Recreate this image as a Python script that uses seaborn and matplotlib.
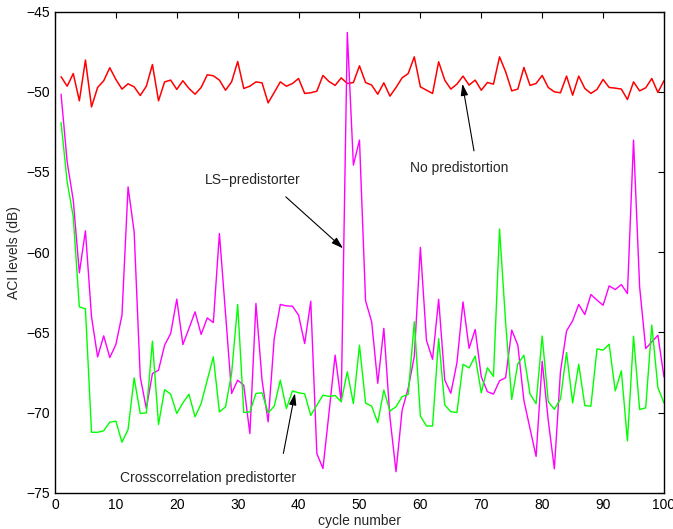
import numpy as np
import pandas as pd
import seaborn as sns
import matplotlib
matplotlib.use('Agg')
import matplotlib.pyplot as plt

# values, cycles 1..100
cycle = np.arange(1, 101)

no_pd = [-49.06, -49.65, -48.86, -50.56, -48.02, -50.94, -49.73, -49.31, -48.50, -49.23,
         -49.83, -49.50, -49.69, -50.23, -49.65, -48.30, -50.56, -49.38, -49.27, -49.85,
         -49.31, -49.79, -50.15, -49.73, -48.94, -49.00, -49.27, -49.90, -49.38, -48.11,
         -49.79, -49.65, -49.38, -49.44, -50.69, -50.04, -49.38, -49.65, -49.48, -49.17,
         -50.10, -50.06, -49.96, -48.98, -49.36, -49.60, -49.13, -49.48, -49.42, -48.38,
         -49.42, -49.58, -50.15, -49.44, -50.27, -49.73, -49.13, -48.86, -47.82, -49.69,
         -49.90, -50.10, -48.13, -49.27, -49.83, -49.52, -49.02, -49.58, -49.27, -49.90,
         -49.42, -49.52, -47.82, -48.75, -49.94, -49.83, -48.48, -49.60, -49.48, -48.98,
         -49.73, -50.00, -50.06, -49.02, -50.21, -49.02, -49.79, -50.10, -49.85, -49.23,
         -49.73, -49.77, -49.83, -50.48, -49.38, -49.94, -49.75, -49.17, -50.04, -49.31]

ls_pd = [-50.15, -54.37, -56.76, -61.29, -58.67, -64.03, -66.53, -65.22, -66.57, -65.76,
         -63.93, -55.93, -58.73, -67.78, -69.75, -67.57, -67.36, -65.80, -65.07, -62.93,
         -65.76, -64.76, -63.72, -65.13, -64.10, -64.39, -58.84, -63.80, -68.81, -67.98,
         -68.30, -71.31, -63.20, -67.98, -70.58, -65.38, -63.26, -63.35, -63.37, -63.93,
         -65.70, -63.06, -72.56, -73.49, -70.00, -66.42, -69.33, -46.30, -54.57, -53.01,
         -63.03, -64.34, -68.18, -64.75, -70.30, -73.69, -69.85, -68.49, -66.50, -59.70,
         -65.50, -66.68, -62.94, -67.97, -68.80, -66.90, -63.10, -66.00, -64.82, -67.77,
         -68.70, -68.85, -68.02, -67.83, -64.86, -65.80, -69.25, -71.00, -72.74, -66.80,
         -70.50, -73.51, -67.45, -64.91, -64.28, -63.26, -63.89, -62.64, -62.99, -63.31,
         -62.10, -62.33, -62.02, -62.58, -53.01, -62.16, -66.01, -65.59, -65.18, -67.78]

xc_pd = [-51.91, -55.61, -57.80, -63.41, -63.53, -71.23, -71.23, -71.14, -70.60, -70.54,
         -71.85, -71.06, -67.84, -70.06, -70.02, -65.55, -70.75, -68.57, -68.86, -70.06,
         -69.40, -68.86, -70.27, -69.44, -67.98, -66.53, -69.96, -69.65, -67.57, -63.26,
         -70.00, -69.96, -68.81, -68.77, -70.02, -69.61, -67.98, -69.75, -68.65, -68.77,
         -68.83, -70.18, -69.54, -68.92, -68.99, -68.94, -69.32, -67.46, -69.44, -65.80,
         -69.41, -69.60, -70.63, -68.60, -69.91, -69.64, -69.01, -68.87, -64.34, -70.22,
         -70.84, -70.84, -65.38, -69.53, -69.95, -70.00, -66.99, -67.22, -66.48, -68.77,
         -67.21, -67.75, -58.56, -64.40, -69.18, -66.96, -66.43, -68.84, -69.45, -65.23,
         -69.33, -69.80, -69.16, -66.26, -69.40, -66.99, -69.56, -69.61, -66.03, -66.11,
         -65.74, -68.65, -67.40, -71.77, -65.24, -69.81, -69.71, -64.55, -68.44, -69.40]

x_ticks = list(range(0, 101, 10))
y_ticks = list(range(-75, -44, 5))

sns.set_style('white')
plt.rcParams['font.family'] = ['Liberation Sans', 'DejaVu Sans']

fig = plt.figure(figsize=(6.73, 5.29), dpi=100)
ax = fig.add_axes([0.0817, 0.0686, 0.9049, 0.9094])

sns.lineplot(x=cycle, y=no_pd, color='#ff0000', lw=1.1, ax=ax)
sns.lineplot(x=cycle, y=ls_pd, color='#ff00ff', lw=1.0, ax=ax)
sns.lineplot(x=cycle, y=xc_pd, color='#00ff00', lw=1.0, ax=ax)

ax.set_xlim(0, 100)
ax.set_ylim(-75, -45)
ax.set_xticks(x_ticks)
ax.set_yticks(y_ticks)
ax.tick_params(direction='in', top=True, right=True, length=4, width=0.8,
               labelsize=10, colors='black')
for s in ax.spines.values():
    s.set_visible(True)
    s.set_color('black')
    s.set_linewidth(1.0)

ax.set_xlabel('cycle number', fontsize=10, labelpad=2)
ax.set_ylabel('ACI levels (dB)', fontsize=10, labelpad=4)

arrow = dict(arrowstyle='-|>,head_length=0.7,head_width=0.22', color='black',
             lw=0.8, shrinkA=0, shrinkB=0)

ax.text(32.4, -55.5, 'LS\u2212predistorter', ha='center', va='center', fontsize=10)
ax.annotate('', xy=(47.3, -59.76), xytext=(37.9, -56.55), arrowprops=arrow)

ax.text(66.4, -54.78, 'No predistortion', ha='center', va='center', fontsize=10)
ax.annotate('', xy=(66.9, -49.5), xytext=(68.8, -53.68), arrowprops=arrow)

ax.text(25.2, -74.1, 'Crosscorrelation predistorter', ha='center', va='center', fontsize=10)
ax.annotate('', xy=(39.4, -68.8), xytext=(37.5, -72.55), arrowprops=arrow)

fig.savefig('out.png', dpi=100)
